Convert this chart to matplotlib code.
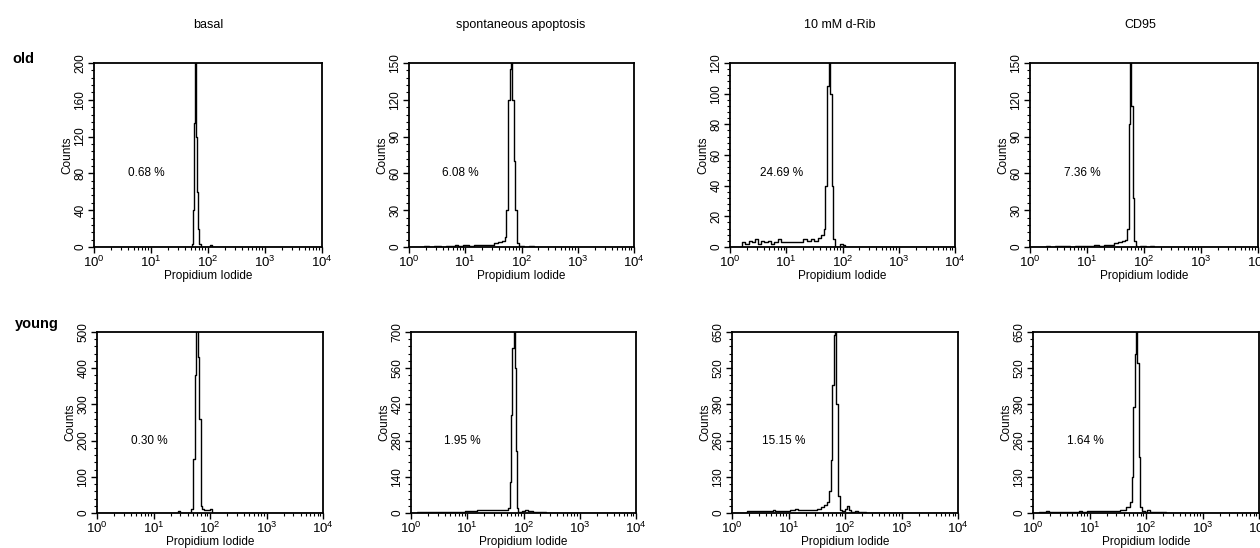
import matplotlib
matplotlib.use("Agg")
import matplotlib.pyplot as plt
from matplotlib.ticker import MultipleLocator, LogLocator, NullFormatter

plt.rcParams['font.family'] = ['Liberation Sans', 'DejaVu Sans']
plt.rcParams['mathtext.fontset'] = 'custom'
plt.rcParams['mathtext.rm'] = 'Liberation Sans'
plt.rcParams['mathtext.it'] = 'Liberation Sans'

# ---------------- data ----------------
conditions = ["basal", "spontaneous apoptosis", "10 mM d-Rib", "CD95"]
groups = ["old", "young"]

percent_old = ["0.68 %", "6.08 %", "24.69 %", "7.36 %"]
percent_young = ["0.30 %", "1.95 %", "15.15 %", "1.64 %"]

ymax_old = [200, 150, 120, 150]
ystep_old = [40, 30, 20, 30]
ymax_young = [500, 700, 650, 650]
ystep_young = [100, 140, 130, 130]

xtick_values = [1, 10, 100, 1000, 10000]
xtick_labels = [r"$10^{0}$", r"$10^{1}$", r"$10^{2}$", r"$10^{3}$", r"$10^{4}$"]

# histograms: PI intensity vs counts
pi_old_basal = [1, 50, 53, 55, 57, 59, 62, 64, 68, 72, 76, 105, 112, 120, 10000]
cnt_old_basal = [0, 0, 3, 40, 135, 260, 120, 60, 20, 3, 0, 0, 2, 0, 0]

pi_old_spont = [1, 1.7, 2.0, 2.5, 3.0, 3.5, 4, 5, 6, 7, 8, 10, 13, 16, 20, 25, 30, 36, 42,
                48, 52, 56, 60, 64, 67, 71, 76, 80, 85, 95, 105, 120, 150, 180, 10000]
cnt_old_spont = [0, 0, 1, 0, 1, 1, 0, 1, 1, 2, 1, 2, 1, 2, 2, 2, 2, 3, 4,
                 5, 8, 30, 120, 145, 250, 120, 70, 30, 3, 1, 1, 0, 1, 0, 0]

pi_old_drib = [1, 1.6, 1.7, 2.0, 2.3, 2.6, 3.0, 3.4, 3.8, 4.3, 5, 5.7, 6.5, 7.5, 8.5, 10, 12,
               15, 18, 21, 25, 29, 34, 39, 44, 48, 51, 55, 59, 62, 66, 70, 75, 85, 95, 105, 115, 10000]
cnt_old_drib = [0, 0, 3, 2, 4, 3, 5, 2, 4, 3, 4, 2, 3, 5, 3, 3, 3,
                3, 3, 5, 4, 5, 4, 6, 8, 12, 40, 105, 150, 100, 40, 5, 0, 0, 2, 1, 0, 0]

pi_old_cd95 = [1, 1.8, 2.0, 2.4, 3, 3.6, 4.5, 5.5, 7, 8.5, 10, 12, 15, 18, 22, 27, 32, 38, 44,
               49, 52, 55, 58, 61, 65, 69, 73, 80, 90, 100, 120, 140, 160, 10000]
cnt_old_cd95 = [0, 0, 1, 0, 1, 1, 1, 0, 1, 1, 1, 1, 2, 1, 2, 2, 3, 4, 5,
                6, 15, 100, 220, 115, 40, 5, 1, 0, 1, 1, 0, 1, 0, 0]

pi_young_basal = [1, 26, 28, 30, 45, 49, 52, 55, 59, 63, 66, 70, 75, 80, 95, 105, 112, 120, 10000]
cnt_young_basal = [0, 0, 5, 0, 0, 10, 150, 380, 560, 430, 260, 20, 10, 8, 8, 10, 0, 0, 0]

pi_young_spont = [1, 1.6, 2, 2.5, 3, 4, 5, 6, 7, 8.5, 10, 13, 17, 22, 30, 40, 50, 55, 58, 61, 65,
                  68, 72, 76, 79, 83, 90, 100, 110, 130, 160, 200, 250, 260, 10000]
cnt_young_spont = [0, 3, 5, 3, 5, 5, 3, 5, 5, 3, 6, 8, 10, 10, 10, 10, 10, 20, 120, 380, 640,
                   780, 560, 240, 20, 5, 5, 8, 10, 6, 5, 5, 3, 0, 0]

pi_young_drib = [1, 1.7, 2, 3, 4, 5, 5.5, 6, 7, 9, 12, 14, 16, 20, 25, 30, 35, 40, 45, 50, 55,
                 58, 62, 65, 68, 73, 79, 85, 95, 105, 112, 120, 140, 160, 180, 200, 230, 250, 10000]
cnt_young_drib = [0, 0, 8, 8, 8, 8, 12, 8, 8, 8, 10, 15, 10, 10, 12, 12, 15, 20, 30, 40, 80,
                  190, 460, 640, 760, 390, 60, 10, 8, 15, 25, 10, 5, 8, 3, 5, 3, 0, 0]

pi_young_cd95 = [1, 1.6, 1.8, 2, 3, 3.3, 4, 5, 6, 7, 8, 10, 12, 15, 20, 25, 30, 40, 50, 55,
                 58, 62, 65, 68, 73, 77, 80, 90, 100, 110, 130, 160, 200, 250, 10000]
cnt_young_cd95 = [0, 5, 8, 3, 3, 5, 5, 5, 5, 8, 5, 8, 8, 8, 8, 8, 8, 10, 20, 40,
                  130, 380, 570, 760, 540, 200, 20, 8, 5, 10, 5, 5, 3, 0, 0]

hist_old = [(pi_old_basal, cnt_old_basal), (pi_old_spont, cnt_old_spont),
            (pi_old_drib, cnt_old_drib), (pi_old_cd95, cnt_old_cd95)]
hist_young = [(pi_young_basal, cnt_young_basal), (pi_young_spont, cnt_young_spont),
              (pi_young_drib, cnt_young_drib), (pi_young_cd95, cnt_young_cd95)]

# ---------------- layout ----------------
W, H = 1260, 548
fig = plt.figure(figsize=(W / 100, H / 100), dpi=100)

row_boxes = [
    (63, 247, [(94, 322), (409, 634), (730, 955), (1030, 1258)]),
    (332, 513, [(97, 323), (411, 636), (732, 958), (1033, 1259)]),
]
row_data = [
    (hist_old, percent_old, ymax_old, ystep_old),
    (hist_young, percent_young, ymax_young, ystep_young),
]

for r, ((top, bot, cols), (hists, pcts, ymaxs, ysteps)) in enumerate(zip(row_boxes, row_data)):
    for c, (l, rr) in enumerate(cols):
        ax = fig.add_axes([l / W, 1 - bot / H, (rr - l) / W, (bot - top) / H])
        x, y = hists[c]
        ax.plot(x, y, color='black', lw=1.0, drawstyle='steps-mid')
        ax.set_xscale('log')
        ax.set_xlim(1, 10000)
        ax.set_ylim(0, ymaxs[c])
        ax.yaxis.set_major_locator(MultipleLocator(ysteps[c]))
        ax.yaxis.set_minor_locator(MultipleLocator(ysteps[c] / 5))
        ax.set_xticks(xtick_values)
        ax.set_xticklabels(xtick_labels, fontsize=9.5)
        ax.xaxis.set_minor_locator(LogLocator(base=10, subs=range(2, 10), numticks=20))
        ax.xaxis.set_minor_formatter(NullFormatter())
        ax.tick_params(axis='both', which='major', direction='out', length=4, width=1, pad=1.5)
        ax.tick_params(axis='both', which='minor', direction='out', length=2.5, width=0.8)
        ax.tick_params(axis='y', labelsize=8.5)
        for lab in ax.get_yticklabels():
            lab.set_rotation(90)
            lab.set_va('center')
        for sp in ax.spines.values():
            sp.set_linewidth(1.3)
        ax.set_ylabel("Counts", fontsize=8.5, labelpad=1)
        ax.set_xlabel("Propidium Iodide", fontsize=8.5, labelpad=0)
        ax.text(0.23, 0.40, pcts[c], transform=ax.transAxes, fontsize=8.5,
                ha='center', va='center')

# column titles
title_x = [208, 521, 840, 1140]
for t, xp in zip(conditions, title_x):
    fig.text(xp / W, 1 - 25 / H, t, fontsize=9, ha='center', va='center')

# row labels
fig.text(12 / W, 1 - 59 / H, groups[0], fontsize=10.5, fontweight='bold', ha='left', va='center')
fig.text(15 / W, 1 - 324 / H, groups[1], fontsize=10.5, fontweight='bold', ha='left', va='center')

fig.savefig("out.png", dpi=100)
